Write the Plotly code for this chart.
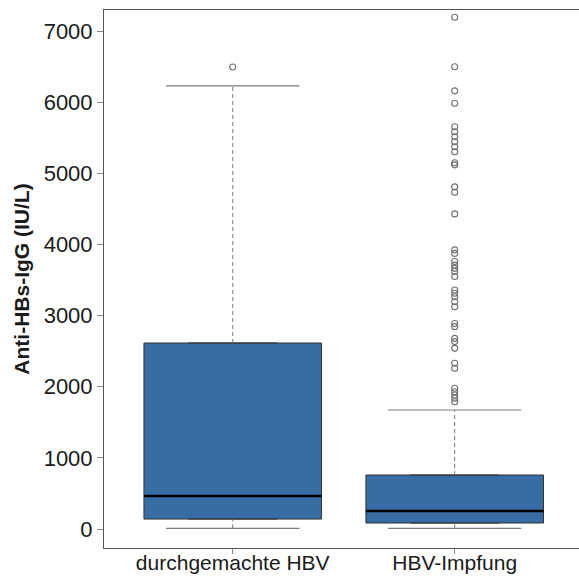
import plotly.graph_objects as go

# Anti-HBs-IgG levels by group: box statistics and outliers
groups = ["durchgemachte HBV", "HBV-Impfung"]
q1 = [140, 84]
median = [464, 253]
q3 = [2615, 759]
whisker_low = [10, 10]
whisker_high = [6229, 1673]

outliers_recovered = [6496]
outliers_vaccinated = [
    7195, 6500, 6160, 5985,
    5655, 5585, 5515, 5445, 5375, 5305,
    5150, 5120, 4810, 4735, 4430,
    3925, 3875, 3760, 3710, 3665, 3620, 3550,
    3360, 3315, 3265, 3195, 3125,
    2890, 2845, 2680, 2635, 2540, 2330, 2260,
    1980, 1930, 1885, 1840, 1790,
]
outliers = [outliers_recovered, outliers_vaccinated]

y_ticks = [0, 1000, 2000, 3000, 4000, 5000, 6000, 7000]

box_fill = "#386CA5"
box_line = "#333333"
whisker_color = "#7a7a7a"
box_width = 0.8
cap_half = 0.3

fig = go.Figure()

for i, name in enumerate(groups):
    # whiskers (dashed) from box edges to the fences
    fig.add_trace(go.Scatter(
        x=[i, i], y=[q3[i], whisker_high[i]], mode="lines",
        line=dict(color=whisker_color, width=1, dash="4px,3px"),
        showlegend=False, hoverinfo="skip"))
    fig.add_trace(go.Scatter(
        x=[i, i], y=[whisker_low[i], q1[i]], mode="lines",
        line=dict(color=whisker_color, width=1, dash="4px,3px"),
        showlegend=False, hoverinfo="skip"))
    # whisker caps
    for v in (whisker_low[i], whisker_high[i]):
        fig.add_trace(go.Scatter(
            x=[i - cap_half, i + cap_half], y=[v, v], mode="lines",
            line=dict(color=whisker_color, width=1.2),
            showlegend=False, hoverinfo="skip"))
    # box body
    fig.add_trace(go.Box(
        x=[i], q1=[q1[i]], median=[median[i]], q3=[q3[i]],
        lowerfence=[q1[i]], upperfence=[q3[i]],
        width=box_width, fillcolor=box_fill,
        line=dict(color=box_line, width=1),
        boxpoints=False, showlegend=False, hoverinfo="skip"))
    # median line
    fig.add_trace(go.Scatter(
        x=[i - box_width / 2, i + box_width / 2], y=[median[i], median[i]],
        mode="lines", line=dict(color="black", width=2.6),
        showlegend=False, hoverinfo="skip"))
    # outliers
    fig.add_trace(go.Scatter(
        x=[i] * len(outliers[i]), y=outliers[i], mode="markers",
        marker=dict(symbol="circle-open", size=6, color="#707070",
                    line=dict(width=1.1)),
        showlegend=False, hoverinfo="skip"))

fig.update_layout(
    width=579, height=579,
    margin=dict(l=104, r=0, t=10, b=31, autoexpand=False),
    plot_bgcolor="white", paper_bgcolor="white",
    font=dict(family="Liberation Sans, Arial, sans-serif", size=22, color="#1a1a1a"),
    xaxis=dict(
        range=[-0.58, 1.56], tickvals=[0, 1], ticktext=groups,
        showline=True, linecolor="#555555", linewidth=1, mirror=True,
        ticks="outside", ticklen=5, tickcolor="#888888",
        showgrid=False, zeroline=False, automargin=False,
        ticklabelstandoff=-9,
        tickfont=dict(size=21),
    ),
    yaxis=dict(
        range=[-267, 7297], tickvals=y_ticks,
        showline=True, linecolor="#555555", linewidth=1,
        ticks="outside", ticklen=6, tickcolor="#888888",
        showgrid=False, zeroline=False, automargin=False,
        tickfont=dict(size=22),
        title=dict(text="<b>Anti-HBs-IgG (IU/L)</b>", font=dict(size=21), standoff=8),
    ),
)

fig.write_html("out.html")
